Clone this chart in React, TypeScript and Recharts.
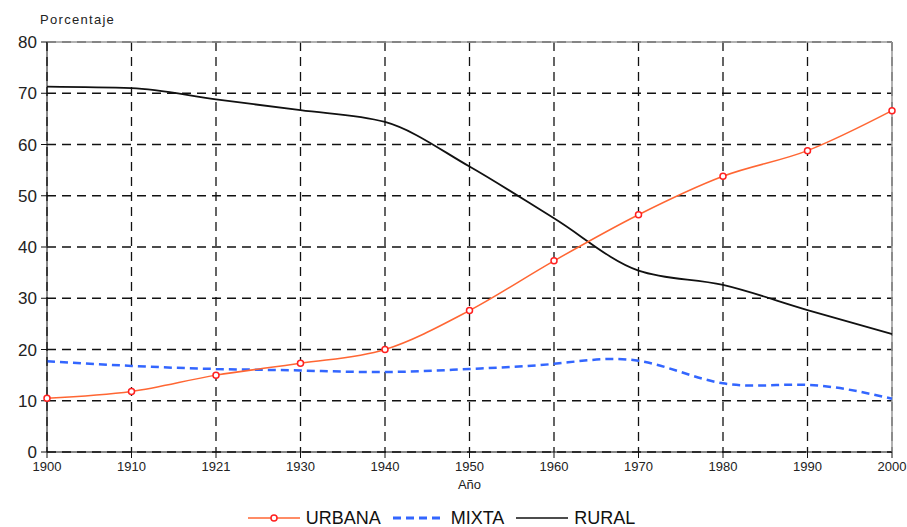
import { LineChart, Line, XAxis, YAxis, CartesianGrid, Legend, ReferenceLine } from 'recharts';

const years = ['1900', '1910', '1921', '1930', '1940', '1950', '1960', '1970', '1980', '1990', '2000'];
const urbana = [10.5, 11.8, 15.0, 17.3, 20.0, 27.6, 37.3, 46.3, 53.8, 58.8, 66.6];
const mixta = [17.7, 16.8, 16.2, 15.9, 15.6, 16.2, 17.2, 17.8, 13.4, 13.1, 10.4];
const rural = [71.3, 71.0, 68.8, 66.7, 64.4, 55.7, 45.6, 35.4, 32.6, 27.7, 23.0];
const yTicks = [0, 10, 20, 30, 40, 50, 60, 70, 80];

const data = years.map((year, i) => ({
  year,
  URBANA: urbana[i],
  MIXTA: mixta[i],
  RURAL: rural[i],
}));

const FONT = '"Liberation Sans", Arial, sans-serif';

function LegendBox() {
  const item = (icon: React.ReactNode, label: string) => (
    <div style={{ display: 'flex', alignItems: 'center', marginRight: 12 }}>
      <svg width={52} height={12} style={{ marginRight: 6 }}>{icon}</svg>
      <span style={{ fontSize: 18, lineHeight: '18px', color: '#111' }}>{label}</span>
    </div>
  );
  return (
    <div
      style={{
        height: 30,
        boxSizing: 'border-box',
        paddingTop: 12,
        paddingRight: 12,
        display: 'flex',
        justifyContent: 'center',
        fontFamily: FONT,
      }}
    >
      {item(
        <>
          <line x1={0} y1={6} x2={52} y2={6} stroke="#ff6633" strokeWidth={1.5} />
          <circle cx={26} cy={6} r={3} fill="#fff" stroke="#ff2020" strokeWidth={1.5} />
        </>,
        'URBANA'
      )}
      {item(
        <line x1={0} y1={6} x2={52} y2={6} stroke="#3366ff" strokeWidth={3} strokeDasharray="8 5" />,
        'MIXTA'
      )}
      {item(<line x1={0} y1={6} x2={52} y2={6} stroke="#111" strokeWidth={1.5} />, 'RURAL')}
    </div>
  );
}

export default function App() {
  return (
    <div style={{ position: 'absolute', left: 0, top: 0, background: '#fff' }}>
      <LineChart width={907} height={527} data={data} margin={{ top: 42, right: 15, left: 7, bottom: 0 }}>
        <CartesianGrid stroke="#111" strokeWidth={1.3} strokeDasharray="9 6" />
        <ReferenceLine y={80} stroke="#999" strokeWidth={1.5} />
        <ReferenceLine x="2000" stroke="#999" strokeWidth={1.5} />
        <XAxis
          dataKey="year"
          height={45}
          stroke="#111"
          tickSize={6}
          tickMargin={4}
          interval={0}
          tick={{ fill: '#222', fontSize: 13, fontFamily: FONT }}
          label={{ value: 'Año', position: 'insideBottom', offset: 8, fill: '#222', fontSize: 13, fontFamily: FONT }}
        />
        <YAxis
          width={40}
          domain={[0, 80]}
          ticks={yTicks}
          stroke="#111"
          tickSize={6}
          tickMargin={4}
          tick={{ fill: '#222', fontSize: 17, fontFamily: FONT }}
          label={{
            content: () => (
              <text x={40} y={24} fill="#222" fontSize={13} fontFamily={FONT} letterSpacing={1.3}>
                Porcentaje
              </text>
            ),
          }}
        />
        <Legend verticalAlign="bottom" width={907} height={30} wrapperStyle={{ left: 0, bottom: 0 }} content={() => <LegendBox />} />
        {/* natural spline lets the mixed series crest just before 1970 */}
        <Line
          type="natural"
          dataKey="MIXTA"
          stroke="#3366ff"
          strokeWidth={2.5}
          strokeDasharray="8 5"
          dot={false}
          isAnimationActive={false}
        />
        <Line type="monotone" dataKey="RURAL" stroke="#111" strokeWidth={1.8} dot={false} isAnimationActive={false} />
        <Line
          type="monotone"
          dataKey="URBANA"
          stroke="#ff6633"
          strokeWidth={1.5}
          dot={{ r: 3, fill: '#fff', stroke: '#ff2020', strokeWidth: 1.5 }}
          isAnimationActive={false}
        />
      </LineChart>
    </div>
  );
}
